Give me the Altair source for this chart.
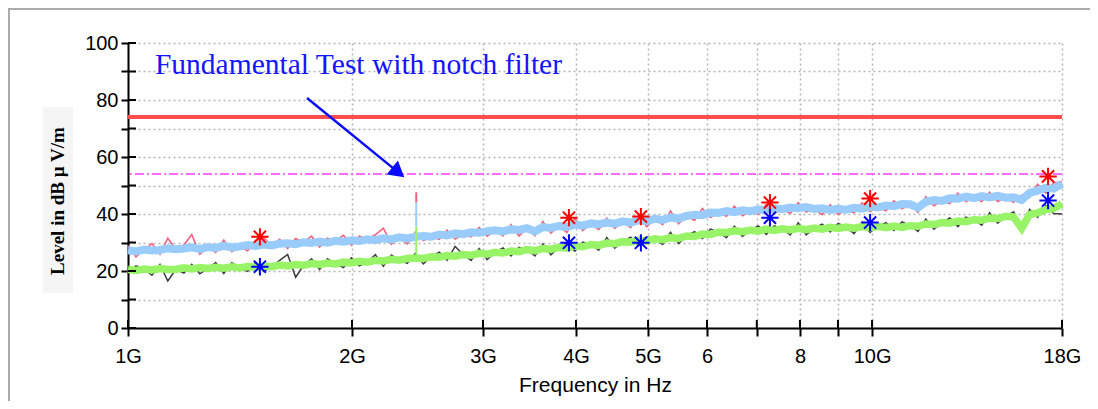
import altair as alt
import pandas as pd

# ---------------- data ----------------
freq_ghz = [
    1.000, 1.025, 1.051, 1.077, 1.104, 1.131, 1.160, 1.189, 1.218, 1.249,
    1.280, 1.312, 1.345, 1.379, 1.413, 1.448, 1.485, 1.522, 1.560, 1.599,
    1.639, 1.680, 1.722, 1.765, 1.809, 1.854, 1.900, 1.948, 1.997, 2.046,
    2.098, 2.150, 2.204, 2.259, 2.315, 2.373, 2.433, 2.494, 2.556, 2.620,
    2.685, 2.752, 2.821, 2.892, 2.964, 3.038, 3.114, 3.192, 3.272, 3.353,
    3.437, 3.523, 3.611, 3.701, 3.794, 3.889, 3.986, 4.086, 4.188, 4.292,
    4.400, 4.510, 4.622, 4.738, 4.856, 4.978, 5.102, 5.230, 5.360, 5.494,
    5.632, 5.773, 5.917, 6.065, 6.217, 6.372, 6.531, 6.695, 6.862, 7.034,
    7.209, 7.390, 7.574, 7.764, 7.958, 8.157, 8.361, 8.570, 8.784, 9.003,
    9.229, 9.459, 9.696, 9.938, 10.19, 10.44, 10.70, 10.97, 11.25, 11.53,
    11.81, 12.11, 12.41, 12.72, 13.04, 13.37, 13.70, 14.04, 14.39, 14.75,
    15.12, 15.50, 15.89, 16.28, 16.69, 17.11, 17.54, 18.00,
]

# peak detector, raw trace (pink)
peak_raw = [
    28.9, 25.0, 27.5, 29.6, 25.9, 31.5, 27.6, 29.1, 32.8, 25.9,
    28.4, 26.5, 30.8, 26.8, 28.6, 27.1, 30.7, 31.6, 29.0, 31.1,
    27.9, 31.4, 30.1, 32.2, 28.4, 31.5, 30.6, 32.5, 29.0, 32.2,
    31.1, 32.7, 35.0, 29.4, 31.8, 29.5, 33.7, 30.7, 32.0, 31.1,
    34.3, 31.2, 32.9, 32.0, 35.3, 32.2, 34.3, 32.3, 36.3, 32.3,
    35.0, 32.4, 37.4, 33.3, 35.8, 33.5, 38.5, 34.2, 36.7, 34.5,
    38.6, 35.0, 37.4, 35.2, 39.7, 35.5, 38.3, 36.3, 41.0, 36.6,
    39.3, 37.7, 41.9, 38.8, 40.4, 39.2, 42.7, 39.4, 41.0, 40.0,
    43.4, 40.2, 41.7, 40.2, 43.9, 40.7, 41.8, 39.8, 43.2, 39.8,
    41.5, 40.4, 43.9, 40.9, 42.3, 41.1, 44.6, 41.8, 43.4, 40.6,
    46.1, 42.9, 44.6, 43.7, 47.3, 44.4, 45.6, 44.4, 47.6, 44.4,
    45.7, 44.1, 46.6, 45.8, 50.4, 47.4, 50.9, 51.3,
]

# peak detector, main band (light blue)
peak_band = [
    27.3, 26.9, 27.5, 27.2, 27.4, 28.0, 27.6, 27.9, 28.3, 27.7,
    28.4, 28.1, 28.8, 28.3, 28.6, 29.1, 28.8, 29.3, 29.0, 29.6,
    29.7, 29.4, 30.1, 29.8, 30.3, 29.9, 30.6, 30.3, 30.8, 30.5,
    31.1, 30.8, 31.5, 31.1, 31.8, 31.4, 32.0, 32.3, 32.0, 32.8,
    32.5, 33.2, 32.9, 33.6, 33.4, 34.0, 34.3, 33.9, 34.6, 34.4,
    35.0, 33.9, 35.4, 35.1, 35.8, 35.5, 36.3, 35.9, 36.7, 36.4,
    37.0, 36.6, 37.4, 37.0, 37.8, 37.5, 38.3, 37.9, 38.8, 38.4,
    39.3, 39.7, 39.6, 40.5, 40.4, 41.0, 40.6, 41.3, 41.0, 41.6,
    41.4, 42.0, 41.7, 42.3, 42.0, 42.4, 41.8, 42.0, 41.4, 41.8,
    41.5, 42.2, 41.9, 42.5, 42.3, 43.0, 42.7, 43.5, 43.4, 42.2,
    44.3, 44.9, 44.6, 45.5, 45.4, 46.1, 45.6, 46.3, 45.8, 46.4,
    45.7, 45.9, 44.9, 47.4, 48.2, 49.2, 48.9, 50.6,
]

# average detector, raw trace (dark grey)
avg_raw = [
    19.1, 21.8, 20.7, 18.5, 22.3, 16.5, 20.6, 19.3, 22.3, 19.0,
    20.9, 23.0, 19.1, 22.9, 21.1, 19.9, 23.1, 19.8, 21.5, 23.7,
    25.8, 17.8, 22.0, 24.3, 20.5, 24.3, 22.5, 21.2, 24.6, 21.8,
    23.1, 25.7, 21.7, 25.6, 23.8, 22.7, 26.2, 22.5, 25.0, 26.6,
    23.8, 28.6, 25.8, 23.7, 27.9, 24.0, 26.6, 28.1, 25.3, 28.3,
    27.5, 25.3, 29.5, 25.7, 28.3, 29.7, 27.0, 30.1, 29.3, 27.3,
    31.7, 28.0, 30.3, 31.9, 28.9, 32.0, 31.3, 29.3, 33.6, 29.6,
    32.3, 33.8, 31.4, 34.7, 33.6, 31.7, 35.7, 32.1, 34.4, 35.8,
    32.8, 35.8, 34.8, 32.7, 36.9, 32.7, 35.1, 36.4, 33.7, 36.7,
    35.4, 33.1, 37.2, 33.5, 35.7, 37.0, 34.2, 37.2, 35.9, 33.9,
    38.2, 34.7, 37.0, 38.6, 35.6, 38.9, 38.0, 36.1, 40.4, 36.8,
    39.2, 40.8, 33.8, 41.6, 38.8, 43.1, 40.2, 40.0,
]

# average detector, main band (green)
avg_band = [
    20.6, 20.2, 20.7, 20.4, 20.9, 20.5, 20.6, 21.1, 20.7, 21.2,
    20.9, 21.3, 21.0, 21.5, 21.1, 21.6, 21.3, 21.8, 21.5, 22.1,
    21.8, 22.3, 22.0, 22.6, 22.3, 22.8, 22.5, 23.1, 22.8, 23.4,
    23.1, 23.7, 23.5, 24.1, 23.8, 24.4, 24.6, 24.4, 25.0, 24.8,
    25.4, 25.2, 25.8, 25.5, 26.2, 25.9, 26.6, 26.3, 27.0, 26.8,
    27.5, 27.1, 27.9, 27.6, 28.3, 28.0, 28.8, 28.5, 29.3, 29.0,
    29.8, 29.6, 30.3, 30.1, 30.8, 30.5, 31.3, 31.0, 31.7, 31.4,
    32.3, 32.1, 33.0, 32.8, 33.6, 33.5, 34.1, 33.8, 34.4, 34.0,
    34.7, 34.2, 34.8, 34.4, 35.0, 34.5, 35.1, 34.7, 35.3, 34.9,
    35.4, 35.0, 35.6, 35.2, 35.7, 35.2, 35.8, 35.3, 35.9, 35.7,
    36.5, 36.3, 37.0, 36.8, 37.5, 37.3, 38.0, 37.8, 38.6, 38.4,
    39.2, 38.9, 35.0, 39.8, 40.4, 41.6, 41.9, 43.6,
]

# final measurement points (asterisks)
final_freq = [1.504, 3.914, 4.89, 7.29, 9.94, 17.24]
final_peak = [32.0, 38.7, 39.1, 44.0, 45.4, 53.2]
final_avg = [21.5, 29.9, 29.9, 38.7, 37.0, 44.7]

# limit lines
limit_peak = 74
limit_avg = 54

# fundamental spike (notched carrier)
spike_freq = [2.44, 2.44, 2.44]
spike_low = [44.0, 35.6, 25.0]
spike_high = [47.6, 44.0, 35.6]
spike_part = ["peak", "band", "avg"]

# annotation
note_text = "Fundamental Test with notch filter"
note_freq = 1.087
note_level = 89.1
arrow_from = (1.740, 80.7)
arrow_to = (2.308, 54.6)

# axes
x_tick_values = [1, 2, 3, 4, 5, 6, 7, 8, 9, 10, 18]
x_tick_labels = ["1G", "2G", "3G", "4G", "5G", "6", "", "8", "", "10G", "18G"]
y_tick_values = [0, 10, 20, 30, 40, 50, 60, 70, 80, 90, 100]
y_title = "Level in dB \u00b5 V/m"
x_title = "Frequency in Hz"

# ---------------- chart ----------------
W, H = 934, 285
SANS = "Liberation Sans"
SERIF = "Liberation Serif"
PINK, LBLUE, GREEN, DGRAY = "#f2607e", "#99ccfa", "#98f466", "#3c3c3c"

label_expr = " : ".join(
    f"datum.value == {v} ? '{l}'" for v, l in zip(x_tick_values, x_tick_labels)
) + " : ''"

xs = alt.Scale(type="log", domain=[1, 18], nice=False)
ys = alt.Scale(domain=[0, 100], nice=False, zero=False)

traces = pd.DataFrame({
    "f": freq_ghz, "peak_raw": peak_raw, "peak_band": peak_band,
    "avg_raw": avg_raw, "avg_band": avg_band,
})
finals = pd.DataFrame({"f": final_freq, "pk": final_peak, "av": final_avg})
limits = pd.DataFrame({"lvl": [limit_peak, limit_avg], "kind": ["peak", "avg"]})
spike = pd.DataFrame({"f": spike_freq, "lo": spike_low, "hi": spike_high, "part": spike_part})
one = pd.DataFrame({"a": [0]})
yt = pd.DataFrame({"v": y_tick_values})
xt = pd.DataFrame({"v": x_tick_values})

X = lambda field: alt.X(field, type="quantitative", scale=xs,
                        axis=alt.Axis(values=x_tick_values, labelExpr=label_expr,
                                      title=x_title))
Y = lambda field: alt.Y(field, type="quantitative", scale=ys,
                        axis=alt.Axis(values=y_tick_values,
                                      labelExpr="datum.value % 20 == 0 ? datum.label : ''",
                                      title=None))

border = alt.Chart(one).mark_rect(filled=False, stroke="#ababab", strokeWidth=2).encode(
    x=alt.value(-119), x2=alt.value(1000), y=alt.value(-34), y2=alt.value(400))

title_bg = alt.Chart(one).mark_rect(fill="#f5f5f5").encode(
    x=alt.value(-85), x2=alt.value(-55), y=alt.value(64), y2=alt.value(250))

title_txt = alt.Chart(one).mark_text(
    text=y_title, angle=270, font=SERIF, fontWeight="bold", fontSize=19,
    align="center", baseline="middle", color="black").encode(
    x=alt.value(-70), y=alt.value(158))

lim_peak = alt.Chart(limits[limits.kind == "peak"]).mark_rule(
    color="#ff4d4d", strokeWidth=4).encode(y=Y("lvl"))
lim_avg = alt.Chart(limits[limits.kind == "avg"]).mark_rule(
    color="#ff3cff", strokeWidth=1.5, strokeDash=[9, 3, 2, 3]).encode(y=Y("lvl"))

base = alt.Chart(traces)
pk_raw = base.mark_line(color=PINK, strokeWidth=1.6).encode(x=X("f"), y=Y("peak_raw"))
pk_band = base.mark_line(color=LBLUE, strokeWidth=8).encode(x=X("f"), y=Y("peak_band"))
av_raw = base.mark_line(color=DGRAY, strokeWidth=1.5).encode(x=X("f"), y=Y("avg_raw"))
av_band = base.mark_line(color=GREEN, strokeWidth=7.5).encode(x=X("f"), y=Y("avg_band"))

spike_rules = alt.Chart(spike).mark_rule(strokeWidth=2).encode(
    x=X("f"), y=Y("lo"), y2="hi",
    color=alt.Color("part:N", scale=alt.Scale(domain=["peak", "band", "avg"],
                                              range=[PINK, LBLUE, GREEN]),
                    legend=None))

ASTER = "M-1,0L1,0M0,-1L0,1M-0.7,-0.7L0.7,0.7M-0.7,0.7L0.7,-0.7"
pk_pts = alt.Chart(finals).mark_point(shape=ASTER, filled=False, color="#ff0000",
                                      strokeWidth=2, size=300, opacity=1).encode(
    x=X("f"), y=Y("pk"))
av_pts = alt.Chart(finals).mark_point(shape=ASTER, filled=False, color="#0000ff",
                                      strokeWidth=2, size=300, opacity=1).encode(
    x=X("f"), y=Y("av"))

note = alt.Chart(pd.DataFrame({"f": [note_freq], "l": [note_level]})).mark_text(
    text=note_text, font=SERIF, fontSize=29.5, color="#1414ff",
    align="left", baseline="alphabetic").encode(x=X("f"), y=Y("l"))

arrow_df = pd.DataFrame({"f": [arrow_from[0]], "l": [arrow_from[1]],
                         "f2": [arrow_to[0]], "l2": [arrow_to[1]]})
arrow_line = alt.Chart(arrow_df).mark_rule(color="#0a0aff", strokeWidth=2.5).encode(
    x=X("f"), y=Y("l"), x2="f2", y2="l2")
arrow_head = alt.Chart(arrow_df).mark_point(shape="triangle-right", filled=True,
                                            color="#0a0aff", size=320, angle=39,
                                            opacity=1).encode(x=X("f2"), y=Y("l2"))

y_inner = alt.Chart(yt).mark_rule(color="black", strokeWidth=2).encode(
    y=Y("v"), x=alt.value(0), x2=alt.value(8))
x_inner = alt.Chart(xt).mark_rule(color="black", strokeWidth=2).encode(
    x=X("v"), y=alt.value(H), y2=alt.value(H - 8))

chart = alt.layer(
    border, title_bg, title_txt,
    lim_peak, lim_avg,
    pk_raw, pk_band, av_raw, av_band, spike_rules,
    pk_pts, av_pts,
    note, arrow_line, arrow_head,
    y_inner, x_inner,
).properties(
    width=W, height=H,
    autosize=alt.AutoSizeParams(type="none"),
    padding={"left": 120, "top": 35, "right": 28, "bottom": 73},
    background="white",
).configure_view(stroke=None).configure_axis(
    grid=True, gridColor="#b5b5b5", gridDash=[2, 3], gridWidth=1.5,
    domainColor="black", domainWidth=2, tickColor="black", tickWidth=2,
    labelFont=SANS, labelColor="black", titleFont=SANS, titleColor="black",
    titleFontWeight="normal",
).configure_axisX(
    tickSize=8, labelFontSize=20, labelPadding=10, titleFontSize=21, titlePadding=8,
    labelFlush=False,
).configure_axisY(
    tickSize=7, labelFontSize=20, labelPadding=3,
)

chart.save("out.html", embed_options={"renderer": "svg", "actions": False})
